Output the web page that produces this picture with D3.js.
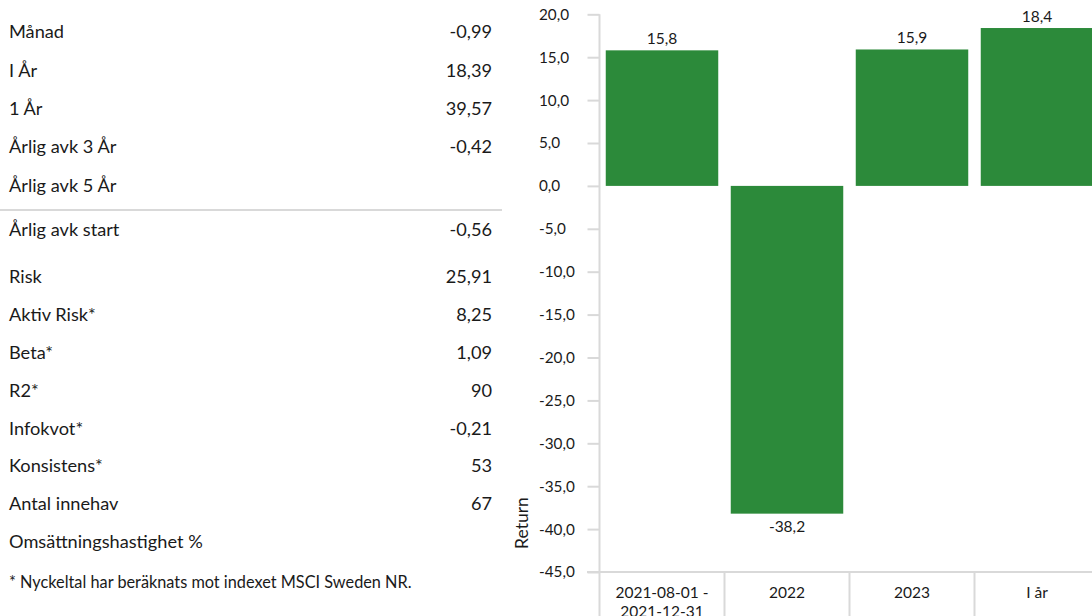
<!DOCTYPE html>
<html>
<head>
<meta charset="utf-8">
<script src="https://cdn.jsdelivr.net/npm/d3@7"></script>
<style>
  body { margin: 0; background: #fff; }
  svg text { font-family: Lato, "Noto Sans", sans-serif; fill: #1a1a1a; }
</style>
</head>
<body>
<svg id="chart" width="1092" height="616"></svg>
<script>
// nyckeltal (left table)
var rowLabels = ["Månad", "I År", "1 År", "Årlig avk 3 År", "Årlig avk 5 År",
                 "Årlig avk start",
                 "Risk", "Aktiv Risk*", "Beta*", "R2*", "Infokvot*", "Konsistens*", "Antal innehav", "Omsättningshastighet %"]
var rowValues = ["-0,99", "18,39", "39,57", "-0,42", "",
                 "-0,56",
                 "25,91", "8,25", "1,09", "90", "-0,21", "53", "67", ""]
var rowGroups = [0, 0, 0, 0, 0, 1, 2, 2, 2, 2, 2, 2, 2, 2]
var footnote = "* Nyckeltal har beräknats mot indexet MSCI Sweden NR."

// bar chart
var categories = ["2021-08-01 -\n2021-12-31", "2022", "2023", "I år"]
var returns = [15.8, -38.2, 15.9, 18.4]
var yTicks = [20, 15, 10, 5, 0, -5, -10, -15, -20, -25, -30, -35, -40, -45]
var yTitle = "Return"

var svg = d3.select("#chart")
var grid = "#d9d9d9"
var green = "#2c8a3a"

var loc = d3.formatLocale({decimal: ",", thousands: " ", grouping: [3], currency: ["", " kr"], minus: "-"})
var f1 = loc.format(".1f")

// ---- table ----
var groupStart = [38.3, 236, 283.3]
var groupStep = [38.35, 0, 37.8]
var firstInGroup = {}
rowGroups.forEach(function(g, i){ if (firstInGroup[g] === undefined) firstInGroup[g] = i })
function rowY(i){
  var g = rowGroups[i]
  return groupStart[g] + (i - firstInGroup[g]) * groupStep[g]
}

var table = svg.append("g")
table.selectAll("text.lbl")
  .data(rowLabels)
  .enter()
  .append("text")
  .attr("class", "lbl")
  .attr("x", 9)
  .attr("y", function(d, i){ return rowY(i) })
  .style("font-size", "18.2px")
  .text(function(d){ return d })

table.selectAll("text.val")
  .data(rowValues)
  .enter()
  .append("text")
  .attr("class", "val")
  .attr("x", 492)
  .attr("y", function(d, i){ return rowY(i) })
  .attr("text-anchor", "end")
  .style("font-size", "18.2px")
  .text(function(d){ return d })

table.append("line")
  .attr("x1", 0).attr("x2", 502)
  .attr("y1", 210).attr("y2", 210)
  .style("stroke", grid).style("stroke-width", 2)

table.append("text")
  .attr("x", 9).attr("y", 588.3)
  .style("font-size", "16.3px")
  .text(footnote)

// ---- chart ----
var x = d3.scaleBand()
  .domain(categories)
  .range([599.5, 1099.5])
  .paddingInner(0.1)
  .paddingOuter(0.05)

var y = d3.scaleLinear()
  .domain([-45, 20])
  .range([572, 14.3])

var yAxis = svg.append("g")
  .attr("transform", "translate(599.5,0)")
  .call(d3.axisLeft(y).tickValues(yTicks).tickSize(12).tickFormat(f1))

yAxis.select(".domain").remove()
yAxis.selectAll(".tick line").style("stroke", grid).style("stroke-width", 2)
yAxis.selectAll(".tick text")
  .attr("x", -60.5)
  .attr("text-anchor", "start")
  .style("font-size", "15.3px")
  .style("font-family", "Lato, sans-serif")
  .style("fill", "#1a1a1a")

// axis line runs on down through the category area
svg.append("line")
  .attr("x1", 599.5).attr("x2", 599.5)
  .attr("y1", y(20)).attr("y2", 616)
  .style("stroke", grid).style("stroke-width", 2)

// category baseline + dividers
svg.append("line")
  .attr("x1", 587).attr("x2", 1092)
  .attr("y1", y(-45)).attr("y2", y(-45))
  .style("stroke", grid).style("stroke-width", 2)

svg.selectAll("line.div")
  .data(categories.slice(1))
  .enter()
  .append("line")
  .attr("class", "div")
  .attr("x1", function(d){ return x(d) - x.step() * x.paddingInner() / 2 })
  .attr("x2", function(d){ return x(d) - x.step() * x.paddingInner() / 2 })
  .attr("y1", y(-45)).attr("y2", 616)
  .style("stroke", grid).style("stroke-width", 2)

svg.selectAll("rect.bar")
  .data(returns)
  .enter()
  .append("rect")
  .attr("class", "bar")
  .attr("x", function(d, i){ return x(categories[i]) })
  .attr("y", function(d){ return y(Math.max(d, 0)) })
  .attr("width", x.bandwidth())
  .attr("height", function(d){ return Math.abs(y(d) - y(0)) })
  .attr("fill", green)

svg.selectAll("text.vlab")
  .data(returns)
  .enter()
  .append("text")
  .attr("class", "vlab")
  .attr("x", function(d, i){ return x(categories[i]) + x.bandwidth() / 2 })
  .attr("y", function(d){ return d >= 0 ? y(d) - 6 : y(d) + 18.5 })
  .attr("text-anchor", "middle")
  .style("font-size", "15.5px")
  .text(function(d){ return f1(d) })

var catLabels = svg.selectAll("text.cat")
  .data(categories)
  .enter()
  .append("text")
  .attr("class", "cat")
  .attr("text-anchor", "middle")
  .attr("x", function(d){ return x(d) + x.bandwidth() / 2 })
  .attr("y", 598.3)
  .style("font-size", "15.5px")

catLabels.selectAll("tspan")
  .data(function(d){ return d.split("\n").map(function(t){ return {t: t, c: d} }) })
  .enter()
  .append("tspan")
  .attr("x", function(d){ return x(d.c) + x.bandwidth() / 2 })
  .attr("dy", function(d, i){ return i == 0 ? 0 : 19 })
  .text(function(d){ return d.t })

svg.append("text")
  .attr("transform", "translate(528,523) rotate(-90)")
  .attr("text-anchor", "middle")
  .style("font-size", "17.5px")
  .text(yTitle)
</script>
</body>
</html>
